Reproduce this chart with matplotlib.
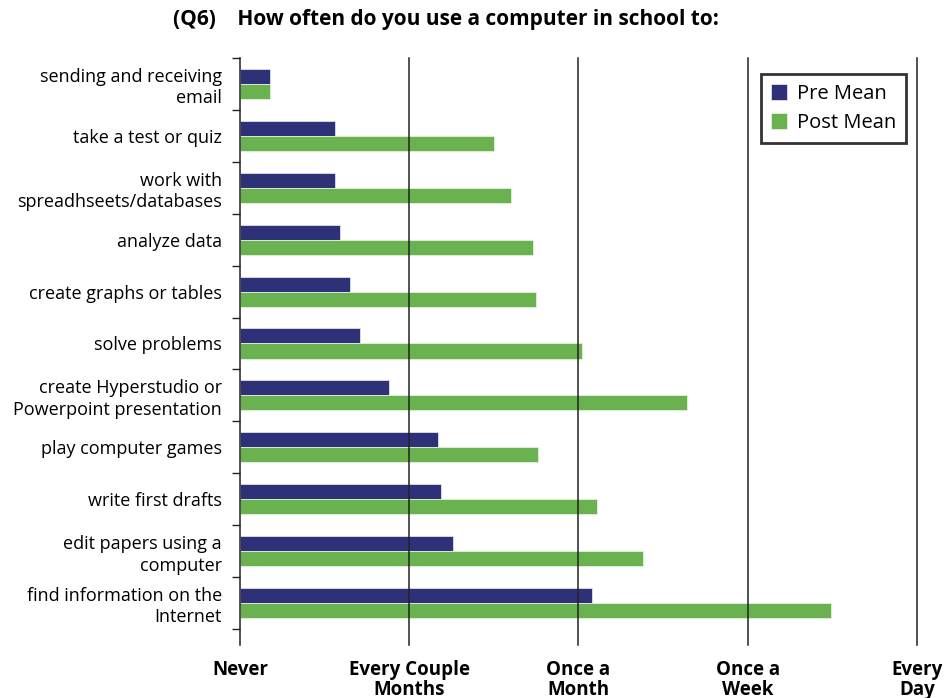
import matplotlib.pyplot as plt
import numpy as np

plt.rcParams['font.family'] = ['Open Sans', 'DejaVu Sans']

# categories top to bottom
categories = [
    'sending and receiving\nemail',
    'take a test or quiz',
    'work with\nspreadhseets/databases',
    'analyze data',
    'create graphs or tables',
    'solve problems',
    'create Hyperstudio or\nPowerpoint presentation',
    'play computer games',
    'write first drafts',
    'edit papers using a\ncomputer',
    'find information on the\nInternet',
]
pre_mean = [0.18, 0.56, 0.56, 0.59, 0.65, 0.71, 0.88, 1.17, 1.19, 1.26, 2.08]
post_mean = [0.18, 1.50, 1.60, 1.73, 1.75, 2.02, 2.64, 1.76, 2.11, 2.38, 3.49]
freq_labels = ['Never', 'Every Couple\nMonths', 'Once a\nMonth', 'Once a\nWeek', 'Every\nDay']

navy = '#2f3178'
green = '#6ab250'

fig = plt.figure(figsize=(9.45, 6.98), dpi=100)
ax = fig.add_axes([240/945, 1 - 645/698, 677/945, 587/698])

y = np.arange(len(categories))
h = 0.29
ax.barh(y - h/2, pre_mean, height=h, color=navy, edgecolor='#dde0ee', linewidth=0.6,
        label='Pre Mean', zorder=2)
ax.barh(y + h/2, post_mean, height=h, color=green, edgecolor='#e2f0dc', linewidth=0.6,
        label='Post Mean', zorder=2)

ax.set_xlim(0, 4)
ax.set_ylim(10.81, -0.5)

# vertical lines drawn over the bars
for xv in [1, 2, 3, 4]:
    ax.axvline(xv, color='#222222', lw=1.1, zorder=3, clip_on=False)

for s in ['top', 'right', 'bottom']:
    ax.spines[s].set_visible(False)
ax.spines['left'].set_color('#222222')
ax.spines['left'].set_linewidth(1.1)
ax.spines['left'].set_zorder(3)

ax.set_yticks(y)
ax.set_yticklabels(categories, fontsize=13, linespacing=1.25)
ax.tick_params(axis='y', which='major', length=0, pad=13)
ax.set_yticks(np.arange(-0.5, len(categories), 1), minor=True)
ax.tick_params(axis='y', which='minor', length=6, width=1, color='#222222')

ax.set_xticks([0, 1, 2, 3, 4])
ax.set_xticklabels(freq_labels, fontsize=13.5, fontweight='bold', linespacing=0.95)
ax.tick_params(axis='x', length=0, pad=11)

leg = ax.legend(loc='upper right', bbox_to_anchor=(0.984, 0.973), borderaxespad=0,
                fontsize=14.5, frameon=True, fancybox=False, handlelength=0.8,
                handleheight=0.8, handletextpad=0.5, borderpad=0.5, labelspacing=0.45)
leg.get_frame().set_edgecolor('black')
leg.get_frame().set_linewidth(2)
leg.set_zorder(5)

fig.text(173/945, 1 - 20/698, '(Q6)    How often do you use a computer in school to:',
         fontsize=15, fontweight='bold', ha='left', va='center')

fig.savefig('out.png', dpi=100)
